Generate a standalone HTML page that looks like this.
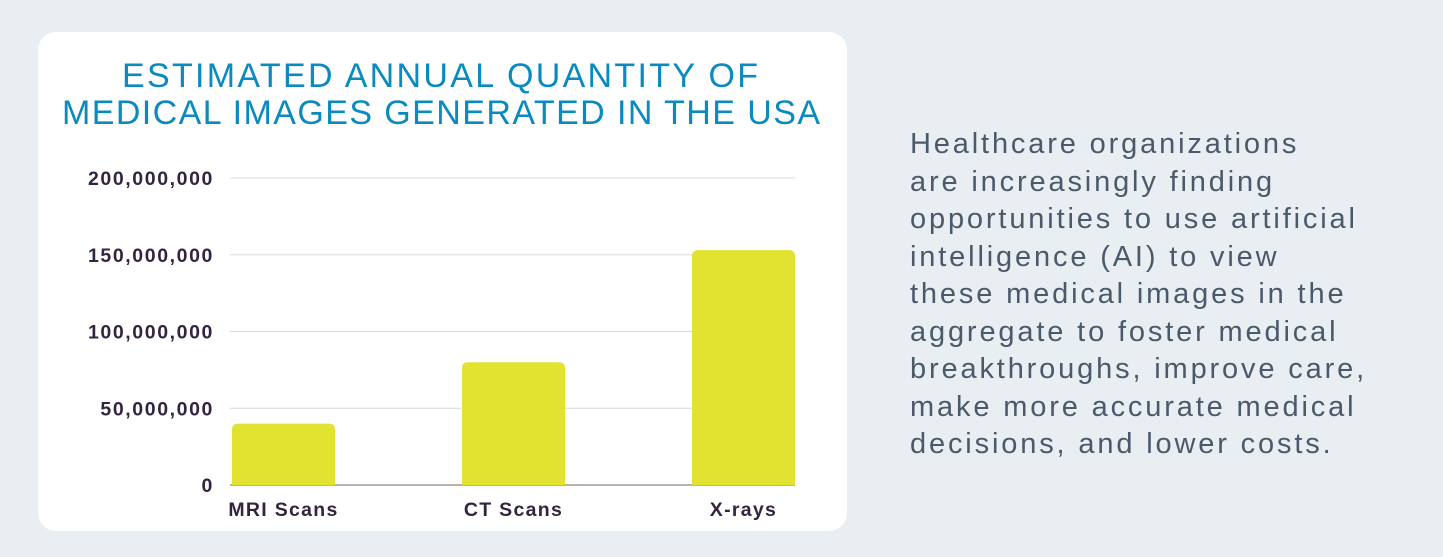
<!DOCTYPE html>
<html><head><meta charset="utf-8"><style>
body{margin:0;width:1443px;height:557px;background:#e9eef2;overflow:hidden;font-family:"Liberation Sans",sans-serif;position:relative}
#card{position:absolute;left:38px;top:32px;width:809px;height:499px;background:#fff;border-radius:18px}
#side{position:absolute;left:910px;top:126px;font-size:29px;line-height:37.5px;color:#4b5a6b;letter-spacing:2.85px;white-space:nowrap}
</style></head><body>
<div id="card"></div>
<svg id="chart" width="1443" height="557" style="position:absolute;left:0;top:0">
<text x="122" y="87" textLength="636" lengthAdjust="spacing" font-size="34" fill="#0a8abf" font-family="Liberation Sans, sans-serif">ESTIMATED ANNUAL QUANTITY OF</text>
<text x="62" y="124" textLength="758" lengthAdjust="spacing" font-size="34" fill="#0a8abf" font-family="Liberation Sans, sans-serif">MEDICAL IMAGES GENERATED IN THE USA</text>
<g id="grid"></g><g id="bars"></g><g id="labels"></g>
</svg>
<div id="side">Healthcare organizations<br>are increasingly finding<br>opportunities to use artificial<br>intelligence (AI) to view<br>these medical images in the<br>aggregate to foster medical<br>breakthroughs, improve care,<br>make more accurate medical<br>decisions, and lower costs.</div>
<script>
const categories=["MRI Scans","CT Scans","X-rays"];
const values=[40000000,80000000,153000000];
const ticks=[0,50000000,100000000,150000000,200000000];
const tickLabels=["0","50,000,000","100,000,000","150,000,000","200,000,000"];
const NS="http://www.w3.org/2000/svg";
const y0=485,y1=178,vmax=200000000,xl=230,xr=795,bw=103;
const yS=v=>y0-(v/vmax)*(y0-y1);
const step=(xr-xl-bw-2)/(categories.length-1);
const xS=i=>xl+2+step*i;
function mk(t,a,p){const e=document.createElementNS(NS,t);for(const k in a)e.setAttribute(k,a[k]);document.getElementById(p).appendChild(e);return e;}
ticks.forEach((t,i)=>{
  if(i>0){const l=mk("line",{x1:xl,x2:xr,y1:yS(t),y2:yS(t),stroke:"#d8d8dc","stroke-width":1},"grid");
  
  }
  const tx=mk("text",{x:214,y:yS(t)+7,"text-anchor":"end","font-size":19.5,"letter-spacing":"1.6","font-weight":"bold",fill:"#33253f","font-family":"Liberation Sans, sans-serif"},"labels");
  tx.textContent=tickLabels[i];
  
  
});
categories.forEach((c,i)=>{
  const x=xS(i),top=yS(values[i]);
  const p=mk("path",{d:`M${x},${y0}V${top+6}Q${x},${top} ${x+6},${top}H${x+bw-6}Q${x+bw},${top} ${x+bw},${top+6}V${y0}Z`,fill:"#e2e331"},"bars");
  
  
  const tx=mk("text",{x:x+bw/2,y:516,"text-anchor":"middle","font-size":19.5,"letter-spacing":"1.3","font-weight":"bold",fill:"#33253f","font-family":"Liberation Sans, sans-serif"},"labels");
  tx.textContent=c;
  
  
});
const ax=mk("line",{x1:xl,x2:xr,y1:y0,y2:y0,stroke:"#8a8590","stroke-width":1.3},"grid");


</script>
</body></html>
